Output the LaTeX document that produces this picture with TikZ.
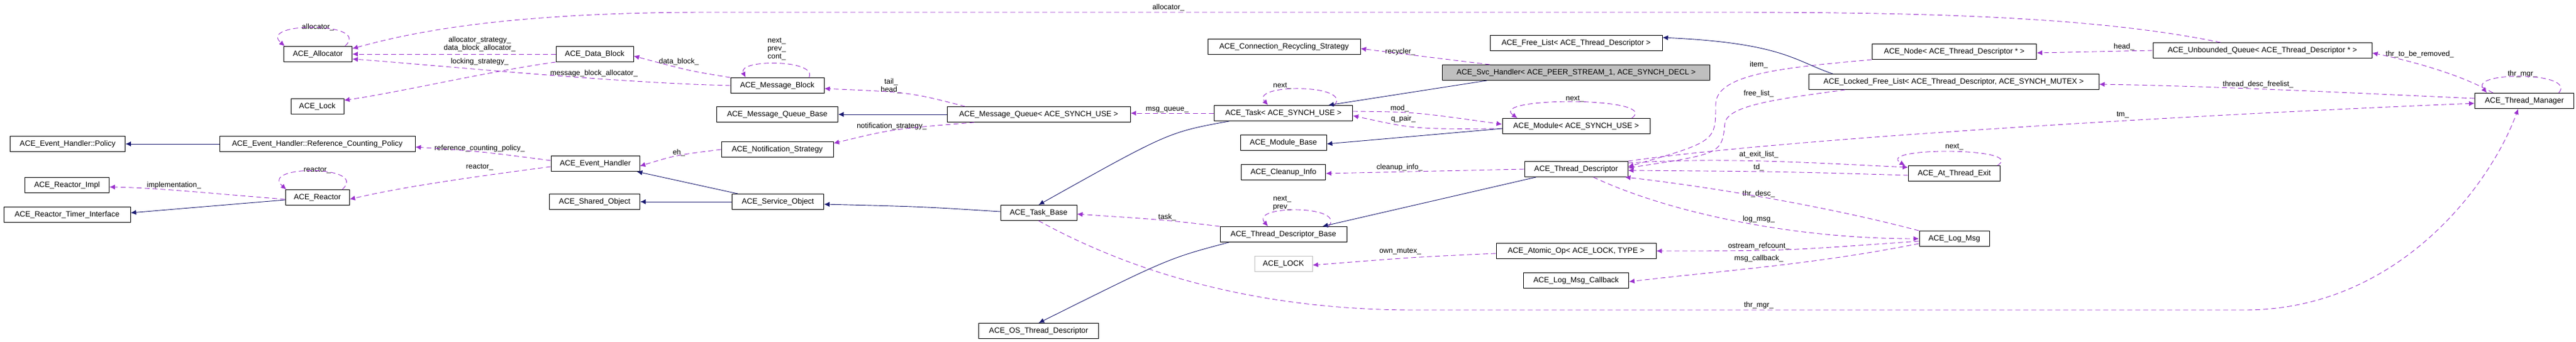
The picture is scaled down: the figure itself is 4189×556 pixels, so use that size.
\documentclass[tikz,border=0pt]{standalone}
\usepackage{fontspec}
\setmainfont{Liberation Sans}
\usetikzlibrary{arrows.meta}
\definecolor{usec}{HTML}{9A32CD}
\definecolor{inhc}{HTML}{191970}
\definecolor{grayb}{HTML}{BFBFBF}
\tikzset{
 box/.style={draw=black,line width=0.9pt,rectangle,minimum height=25pt,inner sep=2pt,font=\fontsize{12.5}{14}\selectfont},
 lab/.style={font=\fontsize{12}{13}\selectfont,inner sep=0pt,align=center},
 use/.style={draw=usec,line width=0.9pt,dash pattern=on 8pt off 5pt,-{Latex[length=9pt,width=8pt]}},
 inh/.style={draw=inhc,line width=0.9pt,-{Latex[length=9pt,width=8pt]}}
}
\begin{document}
\begin{tikzpicture}[x=1pt,y=-1pt]
\useasboundingbox[fill=white] (0,0) rectangle (4189,556);
% nodes
\node[box,minimum width=111] (alloc) at (517,88) {ACE\_Allocator};
\node[box,minimum width=86] (lock) at (516,173) {ACE\_Lock};
\node[box,minimum width=187] (pol) at (110,234) {ACE\_Event\_Handler::Policy};
\node[box,minimum width=318] (rcp) at (516,234) {ACE\_Event\_Handler::Reference\_Counting\_Policy};
\node[box,minimum width=137] (rimpl) at (109,301) {ACE\_Reactor\_Impl};
\node[box,minimum width=206] (rti) at (109,349) {ACE\_Reactor\_Timer\_Interface};
\node[box,minimum width=104] (reactor) at (516,321) {ACE\_Reactor};
\node[box,minimum width=126] (db) at (967,88) {ACE\_Data\_Block};
\node[box,minimum width=152] (mb) at (1264,139) {ACE\_Message\_Block};
\node[box,minimum width=197] (mqb) at (1264,186) {ACE\_Message\_Queue\_Base};
\node[box,minimum width=182] (ns) at (1264,243) {ACE\_Notification\_Strategy};
\node[box,minimum width=144] (eh) at (968,266) {ACE\_Event\_Handler};
\node[box,minimum width=147] (so) at (967,328) {ACE\_Shared\_Object};
\node[box,minimum width=149] (svo) at (1265,328) {ACE\_Service\_Object};
\node[box,minimum width=248] (crs) at (2088,76) {ACE\_Connection\_Recycling\_Strategy};
\node[box,minimum width=298] (mq) at (1689,186) {ACE\_Message\_Queue< ACE\_SYNCH\_USE >};
\node[box,minimum width=225] (task) at (2087,184) {ACE\_Task< ACE\_SYNCH\_USE >};
\node[box,minimum width=140] (modb) at (2087,232) {ACE\_Module\_Base};
\node[box,minimum width=137] (ci) at (2087,280) {ACE\_Cleanup\_Info};
\node[box,minimum width=124] (tb) at (1689,346) {ACE\_Task\_Base};
\node[box,minimum width=206] (tdb) at (2087,381) {ACE\_Thread\_Descriptor\_Base};
\node[box,draw=grayb,minimum width=94] (lck) at (2087,429) {ACE\_LOCK};
\node[box,minimum width=195] (ostd) at (1689,538) {ACE\_OS\_Thread\_Descriptor};
\node[box,minimum width=280] (fl) at (2563,70) {ACE\_Free\_List< ACE\_Thread\_Descriptor >};
\node[box,fill=grayb,minimum width=435] (svc) at (2563,118) {ACE\_Svc\_Handler< ACE\_PEER\_STREAM\_1, ACE\_SYNCH\_DECL >};
\node[box,minimum width=240] (mod) at (2563,205) {ACE\_Module< ACE\_SYNCH\_USE >};
\node[box,minimum width=168] (td) at (2563,275) {ACE\_Thread\_Descriptor};
\node[box,minimum width=260] (aop) at (2563,408) {ACE\_Atomic\_Op< ACE\_LOCK, TYPE >};
\node[box,minimum width=171] (lmc) at (2563,456) {ACE\_Log\_Msg\_Callback};
\node[box,minimum width=267] (nd) at (3178,84) {ACE\_Node< ACE\_Thread\_Descriptor * >};
\node[box,minimum width=472] (lfl) at (3177,133) {ACE\_Locked\_Free\_List< ACE\_Thread\_Descriptor, ACE\_SYNCH\_MUTEX >};
\node[box,minimum width=149] (ate) at (3178,282) {ACE\_At\_Thread\_Exit};
\node[box,minimum width=114] (lm) at (3178,388) {ACE\_Log\_Msg};
\node[box,minimum width=356] (uq) at (3679,82) {ACE\_Unbounded\_Queue< ACE\_Thread\_Descriptor * >};
\node[box,minimum width=161] (tm) at (4105,164) {ACE\_Thread\_Manager};
% labels
\node[lab] (l1) at (517,44) {allocator\_};
\node[lab] (l2) at (1900,12) {allocator\_};
\node[lab] (l3) at (780,72) {allocator\_strategy\_\\data\_block\_allocator\_};
\node[lab] (l4) at (780,100) {locking\_strategy\_};
\node[lab] (l5) at (966,119) {message\_block\_allocator\_};
\node[lab] (l6) at (1104,100) {data\_block\_};
\node[lab] (l7) at (1263,80) {next\_\\prev\_\\cont\_};
\node[lab] (l8) at (1449,140) {tail\_\\head\_};
\node[lab] (l9) at (1450,205) {notification\_strategy\_};
\node[lab] (l10) at (1104,248) {eh\_};
\node[lab] (l11) at (780,241) {reference\_counting\_policy\_};
\node[lab] (l12) at (780,272) {reactor\_};
\node[lab] (l13) at (283,301) {implementation\_};
\node[lab] (l14) at (516,277) {reactor\_};
\node[lab] (l15) at (1898,179) {msg\_queue\_};
\node[lab] (l16) at (2085,140) {next\_};
\node[lab] (l17) at (2276,176) {mod\_};
\node[lab] (l18) at (2282,193) {q\_pair\_};
\node[lab] (l19) at (2561,161) {next\_};
\node[lab] (l20) at (2277,84) {recycler\_};
\node[lab] (l21) at (2276,272) {cleanup\_info\_};
\node[lab] (l22) at (1898,353) {task\_};
\node[lab] (l23) at (2085,330) {next\_\\prev\_};
\node[lab] (l24) at (2277,409) {own\_mutex\_};
\node[lab] (l25) at (2860,400) {ostream\_refcount\_};
\node[lab] (l26) at (2860,420) {msg\_callback\_};
\node[lab] (l27) at (2860,315) {thr\_desc\_};
\node[lab] (l28) at (2860,356) {log\_msg\_};
\node[lab] (l29) at (2860,251) {at\_exit\_list\_};
\node[lab] (l30) at (2860,272) {td\_};
\node[lab] (l31) at (3178,239) {next\_};
\node[lab] (l32) at (3452,187) {tm\_};
\node[lab] (l33) at (3672,137) {thread\_desc\_freelist\_};
\node[lab] (l34) at (3935,88) {thr\_to\_be\_removed\_};
\node[lab] (l35) at (4102,120) {thr\_mgr\_};
\node[lab] (l36) at (2860,496) {thr\_mgr\_};
\node[lab] (l37) at (3454,76) {head\_};
\node[lab] (l38) at (2860,105) {item\_};
\node[lab] (l39) at (2860,152) {free\_list\_};
% self loops
\draw[use] ([xshift=-12pt]alloc.north east) .. controls +(45,-40) and +(-45,-40) .. ([xshift=2pt]alloc.north west);
\draw[use] ([xshift=-25pt]mb.north east) .. controls +(15,-30) and +(-15,-30) .. ([xshift=25pt]mb.north west);
\draw[use] ([xshift=-12pt]reactor.north east) .. controls +(45,-40) and +(-45,-40) .. ([xshift=2pt]reactor.north west);
\draw[use] ([xshift=-30pt]task.north east) .. controls +(30,-35) and +(-30,-35) .. ([xshift=-25pt]task.north);
\draw[use] ([xshift=-30pt]mod.north east) .. controls +(50,-35) and +(-50,-35) .. ([xshift=25pt]mod.north west);
\draw[use] ([xshift=-30pt]tdb.north east) .. controls +(30,-35) and +(-30,-35) .. ([xshift=-25pt]tdb.north);
\draw[use] ([xshift=-5pt]ate.north east) .. controls +(50,-30) and +(-50,-30) .. ([xshift=-5pt]ate.north west);
\draw[use] ([xshift=-25pt]tm.north east) .. controls +(30,-35) and +(-30,-35) .. ([xshift=20pt]tm.north west);
% usage edges
\draw[use] ([xshift=-68pt]uq.north) .. controls (3400,25) and (3100,20) .. (2800,20) -- (1150,20) .. controls (800,20) and (650,58) .. ([yshift=-4pt]alloc.north east);
\draw[use] (db.west) -- (alloc.east);
\draw[use] (db.south west) .. controls (800,115) and (650,150) .. ([yshift=-3pt]lock.north east);
\draw[use] (mb.west) .. controls (1000,135) and (700,105) .. ([yshift=5pt]alloc.south east);
\draw[use] (mb.north west) .. controls (1120,115) .. ([yshift=-3pt]db.east);
\draw[use] ([xshift=30pt]mq.north west) .. controls (1480,150) .. ([yshift=-5pt]mb.east);
\draw[use] ([xshift=45pt]mq.south west) .. controls (1450,210) .. ([yshift=-3pt]ns.north east);
\draw[use] (ns.west) .. controls (1100,252) .. ([yshift=-4pt]eh.east);
\draw[use] ([yshift=5pt]eh.west) .. controls (780,246) .. ([yshift=-5pt]rcp.east);
\draw[use] ([yshift=-5pt]eh.west) .. controls (750,290) and (650,305) .. ([yshift=-3pt]reactor.east);
\draw[use] ([yshift=-3pt]reactor.west) .. controls (350,315) and (250,305) .. ([yshift=-3pt]rimpl.east);
\draw[use] (task.west) -- ([yshift=2pt]mq.east);
\draw[use] ([yshift=3pt]task.east) .. controls (2300,182) .. ([yshift=3pt]mod.west);
\draw[use] ([yshift=-4pt]mod.west) .. controls (2300,210) .. ([yshift=-4pt]task.east);
\draw[use] ([xshift=78pt]svc.north west) .. controls (2300,90) .. ([yshift=-3pt]crs.east);
\draw[use] (td.west) -- ([yshift=-2pt]ci.east);
\draw[use] (tdb.north west) .. controls (1900,358) .. ([yshift=-2pt]tb.east);
\draw[use] ([yshift=-4pt]aop.west) .. controls (2300,418) .. ([yshift=-2pt]lck.east);
\draw[use] ([yshift=-4pt]lm.west) .. controls (2900,408) .. (aop.east);
\draw[use] ([yshift=-8pt]lm.west) .. controls (2950,430) and (2800,440) .. ([yshift=-2pt]lmc.east);
\draw[use] (lm.north west) .. controls (2950,330) and (2750,300) .. ([xshift=-5pt]td.south east);
\draw[use] ([xshift=28pt]td.south) .. controls (2700,340) and (2900,388) .. (lm.west);
\draw[use] ([yshift=-3pt]td.north east) .. controls (2800,255) and (2950,265) .. ([yshift=-3pt]ate.north west);
\draw[use] ([yshift=-3pt]ate.west) .. controls (2900,279) .. ([yshift=-2pt]td.east);
\draw[use] (td.north east) .. controls (2900,225) and (3600,185) .. ([yshift=-4pt]tm.west);
\draw[use] ([yshift=4pt]tm.west) .. controls (3800,150) and (3600,140) .. ([yshift=-4pt]lfl.east);
\draw[use] ([xshift=30pt]tm.north west) .. controls (3990,115) and (3900,95) .. ([yshift=-4pt]uq.east);
\draw[use] (tb.south) .. controls (1800,420) and (2000,504) .. (2300,504) -- (3650,504) .. controls (3900,504) and (4050,300) .. ([xshift=-10pt]tm.south);
\draw[use] (uq.west) -- ([yshift=-2pt]nd.east);
\draw[use] (nd.south west) .. controls (2900,110) and (2790,120) .. (2790,170) .. controls (2790,230) .. ([yshift=4pt]td.east);
\draw[use] ([xshift=60pt]lfl.south west) .. controls (2900,160) and (2810,170) .. (2805,200) .. controls (2800,250) .. ([yshift=2pt]td.east);
% inheritance
\draw[inh] (rcp.west) -- (pol.east);
\draw[inh] ([yshift=-4pt]reactor.west) -- ([yshift=3pt]rti.east);
\draw[inh] ([xshift=10pt]svo.north west) -- ([xshift=-5pt]eh.south east);
\draw[inh] (svo.west) -- (so.east);
\draw[inh] ([yshift=2pt]tb.west) .. controls (1500,336) .. ([yshift=-4pt]svo.east);
\draw[inh] ([xshift=25pt]task.south west) .. controls (1900,215) .. (tb.north);
\draw[inh] ([xshift=-145pt]svc.south) -- ([xshift=-40pt]task.north east);
\draw[inh] ([yshift=-4pt]mod.west) -- ([yshift=-2pt]modb.east);
\draw[inh] (mq.west) -- (mqb.east);
\draw[inh] ([xshift=-65pt]td.south) -- ([xshift=-40pt]tdb.north east);
\draw[inh] ([xshift=15pt]tdb.south west) .. controls (1900,420) .. (ostd.north);
\draw[inh] ([xshift=40pt]lfl.north west) .. controls (2920,100) and (2900,70) .. ([yshift=-4pt]fl.north east);
\end{tikzpicture}
\end{document}
